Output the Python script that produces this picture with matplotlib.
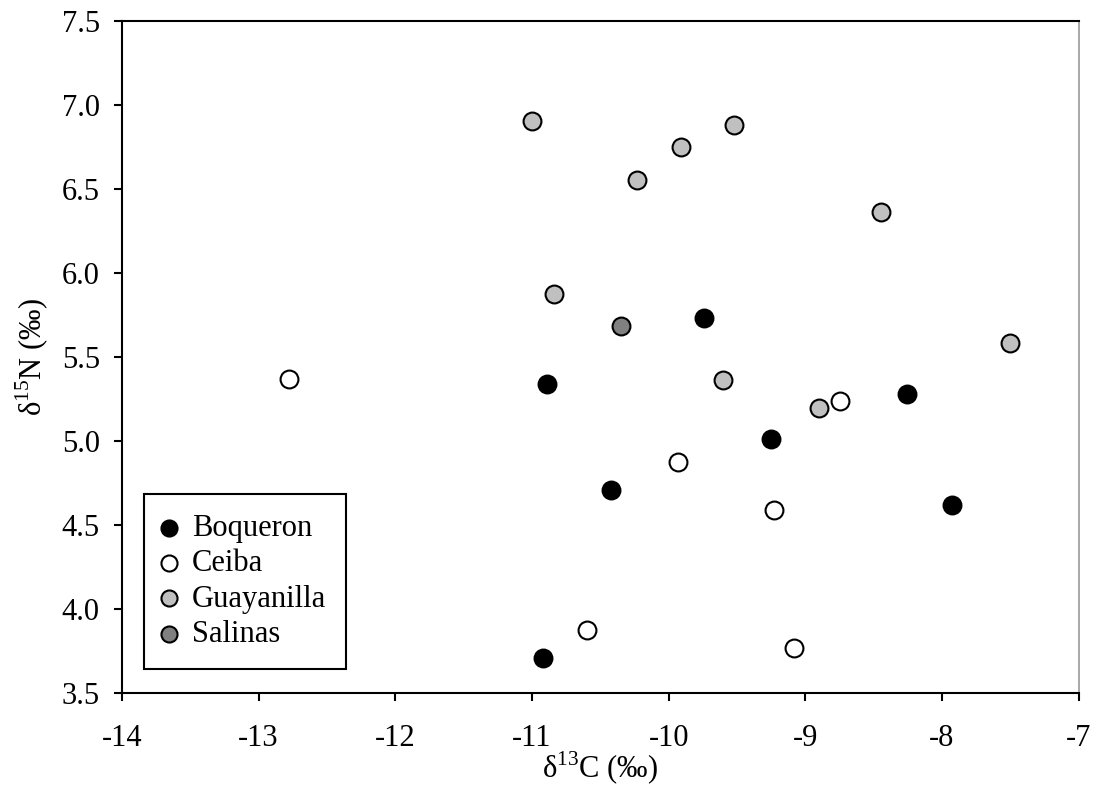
import matplotlib.pyplot as plt

plt.rcParams['font.family'] = ['Liberation Serif', 'DejaVu Serif']
plt.rcParams['mathtext.fontset'] = 'custom'
plt.rcParams['mathtext.rm'] = 'Liberation Serif'
plt.rcParams['axes.unicode_minus'] = False

# d13C (x) and d15N (y) values per site
boq_x = [-9.74, -10.89, -9.25, -10.42, -8.26, -7.93, -10.92]
boq_y = [5.73, 5.34, 5.01, 4.71, 5.28, 4.62, 3.71]

ceiba_x = [-12.78, -9.93, -9.23, -8.75, -10.60, -9.08]
ceiba_y = [5.37, 4.875, 4.59, 5.24, 3.875, 3.765]

guay_x = [-11.00, -10.23, -9.91, -9.52, -8.45, -10.84, -9.60, -8.90, -7.50]
guay_y = [6.905, 6.555, 6.75, 6.88, 6.36, 5.875, 5.36, 5.195, 5.585]

sal_x = [-10.35]
sal_y = [5.685]

fig, ax = plt.subplots(figsize=(11.03, 7.97), dpi=100)
fig.subplots_adjust(left=0.1106, right=0.978, bottom=0.1305, top=0.9737)

ms = 165
ax.scatter(boq_x, boq_y, s=ms, c='black', edgecolors='black', linewidths=1.5, label='Boqueron', zorder=3)
ax.scatter(ceiba_x, ceiba_y, s=ms, c='white', edgecolors='black', linewidths=1.5, label='Ceiba', zorder=3)
ax.scatter(guay_x, guay_y, s=ms, c='#c0c0c0', edgecolors='black', linewidths=1.5, label='Guayanilla', zorder=3)
ax.scatter(sal_x, sal_y, s=ms, c='#808080', edgecolors='black', linewidths=1.5, label='Salinas', zorder=3)

ax.set_xlim(-14, -7)
ax.set_ylim(3.5, 7.5)
ax.set_xticks(range(-14, -6))
ax.set_yticks([3.5, 4.0, 4.5, 5.0, 5.5, 6.0, 6.5, 7.0, 7.5])
ax.set_yticklabels([f'{v:.1f}' for v in ax.get_yticks()])

for side in ['left', 'bottom', 'top']:
    ax.spines[side].set_linewidth(1.5)
ax.spines['right'].set_linewidth(1.2)
ax.spines['right'].set_color('#999999')

ax.tick_params(axis='both', direction='out', length=6, width=1.5, labelsize=22)
ax.tick_params(axis='x', pad=16)
ax.tick_params(axis='y', pad=10)

ax.set_xlabel('δ$^{13}$C (‰)', fontsize=22, labelpad=-2)
ax.set_ylabel('δ$^{15}$N (‰)', fontsize=22, labelpad=8)

leg = ax.legend(loc='lower left', bbox_to_anchor=(0.023, 0.036), fontsize=22,
                frameon=True, fancybox=False, edgecolor='black', framealpha=1,
                handlelength=0.3, handletextpad=0.6, labelspacing=0.2,
                borderpad=0.66, borderaxespad=0, markerscale=0.9, scatterpoints=1)
leg.get_frame().set_linewidth(1.5)

plt.savefig('out.png', dpi=100)
